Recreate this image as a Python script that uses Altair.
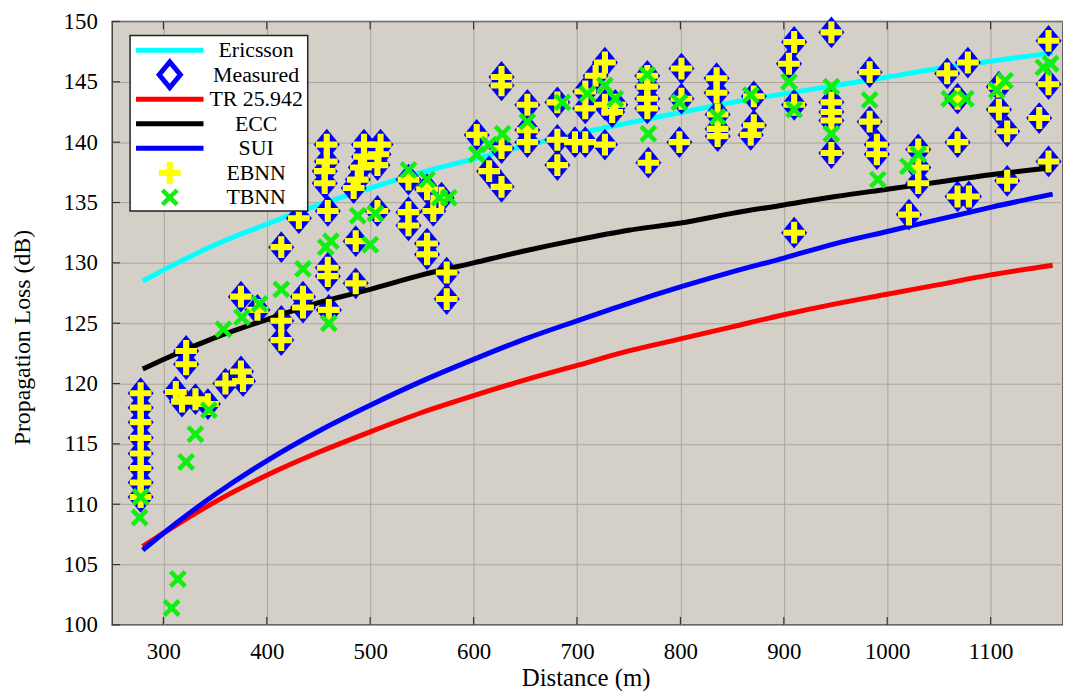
import altair as alt
import pandas as pd

# ---------------- data ----------------
curve_x = [280, 300, 350, 400, 450, 500, 550, 600, 650, 700, 750, 800, 850,
           900, 950, 1000, 1050, 1100, 1160]
ericsson_y = [128.5, 129.4, 131.5, 133.2, 134.8, 136.2, 137.5, 138.6, 139.7, 140.7,
              141.6, 142.45, 143.3, 144.0, 144.7, 145.4, 146.1, 146.7, 147.4]
tr25942_y = [106.5, 107.6, 110.2, 112.4, 114.3, 116.0, 117.6, 119.0, 120.3, 121.5,
             122.7, 123.7, 124.7, 125.7, 126.6, 127.4, 128.2, 129.0, 129.8]
ecc_y = [121.2, 122.0, 123.8, 125.3, 126.7, 127.8, 129.0, 130.0, 131.0, 131.9,
         132.7, 133.3, 134.1, 134.8, 135.5, 136.1, 136.7, 137.3, 137.9]
sui_y = [106.2, 107.6, 110.8, 113.6, 116.05, 118.2, 120.2, 122.0, 123.7, 125.2,
         126.65, 128.0, 129.25, 130.4, 131.6, 132.6, 133.6, 134.6, 135.7]

measured_x = [278, 278, 278, 278, 278, 278, 278, 278,
              322, 322, 312, 318, 331, 343, 360, 375, 377,
              375, 391, 414, 414, 414, 431, 435, 435,
              458, 458, 456, 456, 459, 459, 459, 460,
              494, 494, 491, 488, 484, 486, 486,
              510, 508, 507, 507,
              537, 537, 537, 555, 555, 555, 561, 569, 574, 574,
              603, 615, 627, 627, 627, 627,
              652, 652, 652,
              681, 681, 681,
              698, 708, 708, 708, 718, 727, 727, 727, 734, 737,
              768, 768, 768, 768, 769,
              801, 801, 799,
              835, 835, 836, 836, 836,
              871, 871, 868,
              910, 905, 910, 910,
              946, 946, 946, 946, 946,
              983, 983, 990, 990,
              1030, 1030, 1030, 1021,
              1058, 1078, 1068, 1068, 1068, 1079,
              1108, 1108, 1116, 1116,
              1156, 1156, 1147, 1156]
measured_y = [119.2, 118.0, 116.8, 115.5, 114.2, 113.0, 111.8, 110.6,
              122.7, 121.6, 119.3, 118.5, 118.7, 118.3, 120.0, 121.0, 120.2,
              127.2, 126.1, 131.3, 125.2, 123.6, 133.7, 127.2, 126.3,
              139.8, 138.4, 137.6, 136.6, 134.3, 129.6, 128.9, 126.1,
              139.8, 138.8, 137.9, 136.9, 136.2, 131.8, 128.3,
              139.8, 139.0, 138.1, 134.3,
              136.9, 134.2, 133.1, 136.1, 131.6, 130.7, 134.3, 135.4, 129.2, 127.0,
              140.6, 137.6, 139.5, 136.3, 145.4, 144.7,
              143.1, 141.0, 140.0,
              143.3, 140.2, 138.1,
              140.0, 140.0, 144.2, 142.8, 145.5, 146.6, 139.8, 143.1, 142.5, 143.1,
              145.5, 144.6, 143.6, 142.8, 138.3,
              146.1, 143.6, 140.0,
              145.3, 144.1, 142.3, 141.1, 140.5,
              143.8, 141.4, 140.6,
              148.3, 146.5, 143.1, 132.5,
              149.1, 143.3, 142.5, 141.8, 139.1,
              145.8, 141.7, 139.8, 139.0,
              139.4, 137.9, 136.6, 134.0,
              145.7, 146.6, 143.6, 140.0, 135.5, 135.5,
              144.6, 142.7, 140.9, 136.8,
              148.4, 144.8, 142.0, 138.4]

ebnn_x = list(measured_x)
ebnn_y = list(measured_y)

tbnn_x = [278, 277, 322, 331, 314, 308, 344, 358, 376, 393, 414, 435, 457, 462, 460,
          488, 505, 500, 537, 555, 567, 576, 603, 615, 628, 652, 686, 710, 727, 737,
          768, 769, 799, 836, 868, 905, 910, 946, 946, 983, 991, 1030, 1020, 1060,
          1076, 1114, 1106, 1151, 1158]
tbnn_y = [110.6, 108.9, 113.5, 115.8, 103.8, 101.4, 117.8, 124.5, 125.5, 126.6, 127.8,
          129.5, 131.3, 131.8, 125.0, 133.9, 134.1, 131.5, 137.7, 136.9, 135.4, 135.4,
          139.0, 139.8, 140.7, 141.7, 143.3, 144.0, 144.7, 143.6, 145.6, 140.7, 143.3,
          142.1, 143.9, 145.0, 142.7, 144.6, 140.7, 143.5, 136.9, 139.0, 138.0, 143.6,
          143.6, 145.1, 144.3, 146.2, 146.5]

x_ticks = [300, 400, 500, 600, 700, 800, 900, 1000, 1100]
y_ticks = [100, 105, 110, 115, 120, 125, 130, 135, 140, 145, 150]

legend_names = ["Ericsson", "Measured", "TR 25.942", "ECC", "SUI", "EBNN", "TBNN"]

# ---------------- styles ----------------
FONT = "Liberation Serif"
DIAMOND = "M0,-1L0.82,0L0,1L-0.82,0Z"
PLUS = ("M-1,-0.28L-0.28,-0.28L-0.28,-1L0.28,-1L0.28,-0.28L1,-0.28L1,0.28"
        "L0.28,0.28L0.28,1L-0.28,1L-0.28,0.28L-1,0.28Z")
XMARK = ("M-1,-0.64L-0.64,-1L0,-0.36L0.64,-1L1,-0.64L0.36,0L1,0.64L0.64,1"
         "L0,0.36L-0.64,1L-1,0.64L-0.36,0Z")
CYAN, RED, BLACK, BLUE = "#00ffff", "#ff0000", "#000000", "#0000ff"
YELLOW, GREEN = "#ffff00", "#11ee11"

xs = alt.Scale(domain=[250.5, 1170], nice=False, zero=False)
ys = alt.Scale(domain=[100, 150], nice=False, zero=False)

x_axis = alt.Axis(values=x_ticks, format="d", grid=True, ticks=False, domain=False,
                  labelPadding=16, titleX=477, titleY=61,
                  titleBaseline="alphabetic", titleFontSize=25)
y_axis = alt.Axis(values=y_ticks, format="d", grid=True, ticks=False, domain=False,
                  labelPadding=15, titleX=-83, titleY=318, titleAngle=270,
                  titleBaseline="alphabetic", titleFontSize=24)


def X():
    return alt.X("x:Q", scale=xs, axis=x_axis, title="Distance (m)")


def Y():
    return alt.Y("y:Q", scale=ys, axis=y_axis, title="Propagation Loss (dB)")


def curve(vals, color):
    df = pd.DataFrame({"x": curve_x, "y": vals})
    return alt.Chart(df).mark_line(color=color, strokeWidth=5,
                                   interpolate="monotone").encode(x=X(), y=Y())


def points(xv, yv, shape, size, color):
    df = pd.DataFrame({"x": xv, "y": yv})
    return alt.Chart(df).mark_point(shape=shape, size=size, filled=True,
                                    fill=color, strokeWidth=0,
                                    opacity=1).encode(x=X(), y=Y())


layers = [
    curve(ericsson_y, CYAN),
    points(measured_x, measured_y, DIAMOND, 1024, BLUE),
    curve(tr25942_y, RED),
    curve(ecc_y, BLACK),
    curve(sui_y, BLUE),
    points(ebnn_x, ebnn_y, PLUS, 484, YELLOW),
    points(tbnn_x, tbnn_y, XMARK, 324, GREEN),
]

# inward tick marks (MATLAB style)
xt = pd.DataFrame({"x": x_ticks})
yt = pd.DataFrame({"y": y_ticks})
layers.append(alt.Chart(xt).mark_rule(color="#333333", strokeWidth=1.2).encode(
    x=X(), y=alt.value(608), y2=alt.value(600)))
layers.append(alt.Chart(xt).mark_rule(color="#333333", strokeWidth=1.2).encode(
    x=X(), y=alt.value(0), y2=alt.value(8)))
layers.append(alt.Chart(yt).mark_rule(color="#333333", strokeWidth=1.2).encode(
    y=Y(), x=alt.value(0), x2=alt.value(8)))

# legend box (drawn by hand to mix line and marker samples)
one = pd.DataFrame({"k": [0]})
layers.append(alt.Chart(one).mark_rect(fill="white", stroke="#222222",
                                       strokeWidth=1.5).encode(
    x=alt.value(18), x2=alt.value(197), y=alt.value(14), y2=alt.value(191)))

leg_style = {
    "Ericsson": ("line", CYAN),
    "Measured": ("diamond", BLUE),
    "TR 25.942": ("line", RED),
    "ECC": ("line", BLACK),
    "SUI": ("line", BLUE),
    "EBNN": ("plus", YELLOW),
    "TBNN": ("x", GREEN),
}
for i, name in enumerate(legend_names):
    yy = 29 + i * 24.7
    kind, col = leg_style[name]
    if kind == "line":
        layers.append(alt.Chart(one).mark_rule(color=col, strokeWidth=5).encode(
            x=alt.value(24), x2=alt.value(92), y=alt.value(yy)))
    elif kind == "diamond":
        layers.append(alt.Chart(one).mark_point(
            shape=DIAMOND, size=676, filled=True, fill="white", stroke=col,
            strokeWidth=5, opacity=1).encode(x=alt.value(58), y=alt.value(yy)))
    elif kind == "plus":
        layers.append(alt.Chart(one).mark_point(
            shape=PLUS, size=484, filled=True, fill=col, strokeWidth=0,
            opacity=1).encode(x=alt.value(58), y=alt.value(yy)))
    else:
        layers.append(alt.Chart(one).mark_point(
            shape=XMARK, size=324, filled=True, fill=col, strokeWidth=0,
            opacity=1).encode(x=alt.value(58), y=alt.value(yy)))
    layers.append(alt.Chart(one).mark_text(
        text=name, font=FONT, fontSize=22, align="center", baseline="middle",
        color="black").encode(x=alt.value(145), y=alt.value(yy)))

chart = alt.layer(*layers).properties(
    width=958, height=608, autosize="none",
    padding={"left": 105, "top": 11, "right": 0, "bottom": 64},
    background="white",
).configure_view(
    fill="#d4d0c8", stroke="#3c3c3c", strokeWidth=1.5
).configure_axis(
    labelFont=FONT, labelFontSize=23, labelColor="black",
    titleFont=FONT, titleFontWeight="normal", titleColor="black",
    gridColor="#a9a59e", gridWidth=1, gridOpacity=1,
)

chart.save("out.html", embed_options={"renderer": "svg", "actions": False})
